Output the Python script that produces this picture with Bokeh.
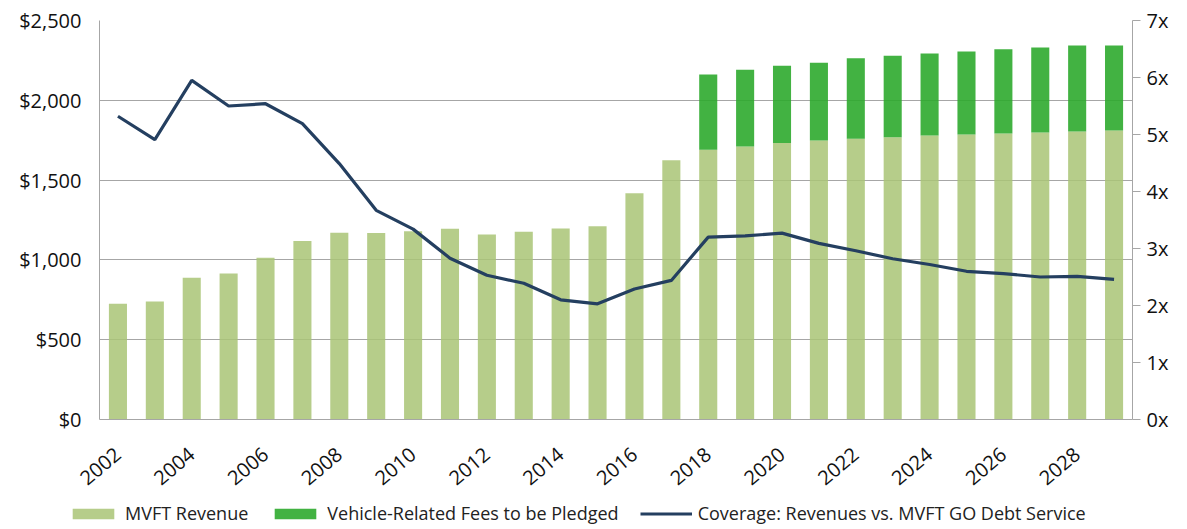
from bokeh.plotting import figure
from bokeh.layouts import column
from bokeh.models import (Range1d, LinearAxis, FixedTicker, NumeralTickFormatter,
                          PrintfTickFormatter, Legend, LegendItem, ColumnDataSource)
from bokeh.embed import file_html
from bokeh.resources import INLINE

years = list(range(2002, 2030))
mvft_revenue = [725, 739, 888, 915, 1013, 1119, 1170, 1168, 1180, 1195, 1159, 1176, 1197, 1211,
                1418, 1625, 1690, 1711, 1733, 1748, 1759, 1769, 1780, 1786, 1792, 1798, 1805, 1811]
pledged_years = list(range(2018, 2030))
pledged_fees = [472, 480, 483, 487, 505, 510, 513, 520, 528, 533, 538, 532]
coverage = [5.32, 4.91, 5.95, 5.50, 5.54, 5.19, 4.49, 3.67, 3.34, 2.83, 2.53, 2.39, 2.10, 2.03,
            2.29, 2.44, 3.20, 3.22, 3.27, 3.09, 2.96, 2.82, 2.72, 2.60, 2.56, 2.50, 2.51, 2.46]
x_ticks = list(range(2002, 2029, 2))
left_ticks = [0, 500, 1000, 1500, 2000, 2500]
right_ticks = [0, 1, 2, 3, 4, 5, 6, 7]
legend_labels = ["MVFT Revenue", "Vehicle-Related Fees to be Pledged",
                 "Coverage: Revenues vs. MVFT GO Debt Service"]

FONT = "Open Sans"
GRID = "#a6a6a6"
LIGHT = dict(fill_color="#a9c476", fill_alpha=0.85, line_color=None)
DARK = dict(fill_color="#2eaa2e", fill_alpha=0.9, line_color=None)
LINE = dict(line_color="#243f60", line_width=3.2)

p = figure(width=1179, height=495, output_backend="svg", toolbar_location=None,
           x_range=Range1d(2001.5, 2029.5), y_range=Range1d(0, 2500),
           min_border_left=99, min_border_right=47, min_border_top=20, min_border_bottom=76)
p.outline_line_color = None
p.background_fill_color = "white"
p.border_fill_color = "white"

p.extra_y_ranges = {"cov": Range1d(0, 7)}

src = ColumnDataSource(dict(x=years, mvft=mvft_revenue, cov=coverage))
mvft_map = dict(zip(years, mvft_revenue))
psrc = ColumnDataSource(dict(x=pledged_years,
                             bottom=[mvft_map[y] for y in pledged_years],
                             top=[mvft_map[y] + v for y, v in zip(pledged_years, pledged_fees)]))

p.vbar(x="x", top="mvft", bottom=0, width=0.49, source=src, **LIGHT)
p.vbar(x="x", top="top", bottom="bottom", width=0.49, source=psrc, **DARK)
p.line(x="x", y="cov", source=src, y_range_name="cov", **LINE)

# axes
p.yaxis.ticker = FixedTicker(ticks=left_ticks)
p.yaxis.formatter = NumeralTickFormatter(format="$0,0")
p.yaxis.major_tick_line_color = None
p.yaxis.minor_tick_line_color = None
p.yaxis.axis_line_color = GRID
p.yaxis.major_label_text_font = FONT
p.yaxis.major_label_text_font_size = "20px"
p.yaxis.major_label_text_color = "#111111"
p.yaxis.major_label_standoff = 12

p.xaxis.ticker = FixedTicker(ticks=x_ticks)
p.xaxis.major_tick_line_color = None
p.xaxis.minor_tick_line_color = None
p.xaxis.axis_line_color = GRID
p.xaxis.major_label_orientation = 0.70
p.xaxis.major_label_text_font = FONT
p.xaxis.major_label_text_font_size = "20px"
p.xaxis.major_label_text_color = "#111111"
p.xaxis.major_label_standoff = 26

raxis = LinearAxis(y_range_name="cov", ticker=FixedTicker(ticks=right_ticks),
                   formatter=PrintfTickFormatter(format="%dx"))
raxis.axis_line_color = GRID
raxis.major_tick_line_color = GRID
raxis.major_tick_in = 0
raxis.major_tick_out = 8
raxis.minor_tick_line_color = None
raxis.major_label_text_font = FONT
raxis.major_label_text_font_size = "20px"
raxis.major_label_text_color = "#111111"
raxis.major_label_standoff = 6
p.add_layout(raxis, "right")

p.xgrid.grid_line_color = None
p.ygrid.ticker = FixedTicker(ticks=left_ticks)
p.ygrid.grid_line_color = GRID
p.ygrid.grid_line_width = 1

# legend strip below the chart (its renderers share the data but lie outside its view)
p2 = figure(width=1179, height=34, output_backend="svg", toolbar_location=None,
            x_axis_location=None, y_axis_location=None,
            x_range=Range1d(0, 1), y_range=Range1d(0, 1),
            min_border=0, min_border_left=0, min_border_right=0,
            min_border_top=0, min_border_bottom=0)
p2.extra_y_ranges = {"cov": Range1d(0, 1)}
if "frame_align" in p2.properties():
    p2.frame_align = False
    legend_x = 67
else:
    legend_x = -32
p2.outline_line_color = None
p2.grid.grid_line_color = None
p2.background_fill_color = "white"
p2.border_fill_color = "white"
l1 = p2.vbar(x="x", top="mvft", bottom=0, width=0.49, source=src, **LIGHT)
l2 = p2.vbar(x="x", top="top", bottom="bottom", width=0.49, source=psrc, **DARK)
l3 = p2.line(x="x", y="cov", source=src, **LINE)

legend = Legend(items=[
    LegendItem(label=legend_labels[0], renderers=[l1]),
    LegendItem(label=legend_labels[1], renderers=[l2]),
    LegendItem(label=legend_labels[2], renderers=[l3]),
], orientation="horizontal", location=(legend_x, 4),
    label_text_font=FONT, label_text_font_size="18px", label_text_color="#222222",
    glyph_width=52, glyph_height=13, label_standoff=6, spacing=21,
    border_line_color=None, background_fill_alpha=0, padding=0, margin=0)
p2.add_layout(legend, "center")

open("out.html", "w").write(file_html(column(p, p2), INLINE))
